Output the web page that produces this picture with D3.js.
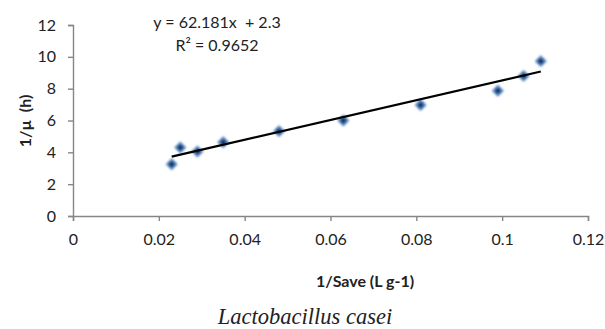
<!DOCTYPE html>
<html>
<head>
<meta charset="utf-8">
<script src="https://cdn.jsdelivr.net/npm/d3@7"></script>
<style>
  body { margin: 0; background: #fff; }
  svg text { font-family: Lato, "Open Sans", sans-serif; fill: #222; white-space: pre; }
</style>
</head>
<body>
<div id="chart"></div>
<script>
// inverse substrate concentration vs inverse growth rate
const invSave = [0.023, 0.025, 0.029, 0.035, 0.048, 0.063, 0.081, 0.099, 0.105, 0.109];
const invMu = [3.25, 4.3, 4.05, 4.63, 5.33, 6.0, 6.97, 7.87, 8.8, 9.73];
const xTicks = [0, 0.02, 0.04, 0.06, 0.08, 0.1, 0.12];
const yTicks = [0, 2, 4, 6, 8, 10, 12];
const slope = 62.181;
const intercept = 2.3;
const eqLines = ['y = 62.181x  + 2.3', 'R² = 0.9652'];

const width = 605, height = 329;
const margin = { left: 73, right: 17, top: 25, bottom: 113 };

const svg = d3.select('#chart')
    .append('svg')
    .attr('width', width)
    .attr('height', height);

const x = d3.scaleLinear()
    .domain([0, 0.12])
    .range([margin.left, width - margin.right]);

const y = d3.scaleLinear()
    .domain([0, 12])
    .range([height - margin.bottom, margin.top]);

const xAxis = svg.append('g')
    .attr('transform', 'translate(0,' + y(0) + ')')
    .call(d3.axisBottom(x).tickValues(xTicks).tickSize(5).tickPadding(13)
        .tickFormat(d => d3.format('~g')(d)));

const yAxis = svg.append('g')
    .attr('transform', 'translate(' + x(0) + ',0)')
    .call(d3.axisLeft(y).tickValues(yTicks).tickSize(5).tickPadding(12));

[xAxis, yAxis].forEach(a => {
    a.select('.domain').attr('stroke', '#868686').attr('stroke-width', 1.4);
    a.selectAll('.tick line').attr('stroke', '#868686').attr('stroke-width', 1.4);
    a.selectAll('.tick text').attr('font-size', 16).attr('fill', '#222')
        .attr('font-family', 'Lato, sans-serif');
});

// marker glow
const defs = svg.append('defs');
defs.append('filter')
    .attr('id', 'soft')
    .attr('x', '-50%').attr('y', '-50%').attr('width', '200%').attr('height', '200%')
    .append('feGaussianBlur')
    .attr('stdDeviation', 0.9);

const pts = d3.zip(invSave, invMu);

svg.append('g')
    .selectAll('path')
    .data(pts)
    .join('path')
    .attr('d', d3.symbol(d3.symbolDiamond2, 90)())
    .attr('transform', d => 'translate(' + x(d[0]) + ',' + y(d[1]) + ')')
    .attr('fill', '#4f81bd')
    .attr('filter', 'url(#soft)');

svg.append('g')
    .selectAll('circle')
    .data(pts)
    .join('circle')
    .attr('cx', d => x(d[0]))
    .attr('cy', d => y(d[1]))
    .attr('r', 2)
    .attr('fill', '#10243e')
    .attr('filter', 'url(#soft)');

// linear trendline across the data range
const xr = d3.extent(invSave);
svg.append('path')
    .datum(xr.map(v => [v, slope * v + intercept]))
    .attr('fill', 'none')
    .attr('stroke', '#000')
    .attr('stroke-width', 2.2)
    .attr('d', d3.line().x(d => x(d[0])).y(d => y(d[1])));

const eq = svg.append('text')
    .attr('text-anchor', 'middle')
    .attr('font-size', 16);
eq.selectAll('tspan')
    .data(eqLines)
    .join('tspan')
    .attr('x', 217)
    .attr('y', (d, i) => 28 + i * 23)
    .text(d => d);

svg.append('text')
    .attr('text-anchor', 'middle')
    .attr('font-size', 16)
    .attr('font-weight', 'bold')
    .attr('x', 365)
    .attr('y', 287)
    .text('1/Save (L g-1)');

svg.append('text')
    .attr('text-anchor', 'middle')
    .attr('font-size', 16)
    .attr('font-weight', 'bold')
    .attr('transform', 'translate(31,121) rotate(-90)')
    .text('1/µ  (h)');

svg.append('text')
    .attr('text-anchor', 'middle')
    .attr('font-size', 22.5)
    .attr('font-style', 'italic')
    .style('font-family', '"Liberation Serif", "Times New Roman", serif')
    .attr('x', 305)
    .attr('y', 324)
    .text('Lactobacillus casei');
</script>
</body>
</html>
